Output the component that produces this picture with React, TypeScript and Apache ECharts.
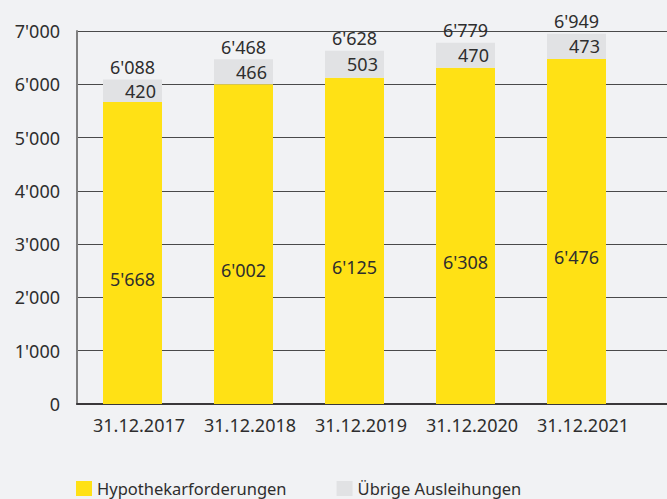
import React, { useEffect, useRef } from "react";
import * as echarts from "echarts";

const categories = ["31.12.2017", "31.12.2018", "31.12.2019", "31.12.2020", "31.12.2021"];
const hypothekar = [5668, 6002, 6125, 6308, 6476];
const uebrige = [420, 466, 503, 470, 473];
const totals = [6088, 6468, 6628, 6779, 6949];
const yTicks = { min: 0, max: 7000, interval: 1000 };

const fmt = (v: number) => {
  const s = Math.round(v).toString();
  return s.replace(/\B(?=(\d{3})+(?!\d))/g, "'");
};

const FONT = "'Noto Sans', sans-serif";
const TXT = "#2e2e2e";
const FS = 18;

export default function App() {
  const ref = useRef<HTMLDivElement>(null);
  useEffect(() => {
    if (!ref.current) return;
    const chart = echarts.init(ref.current, null, { renderer: "svg" });
    chart.setOption({
      animation: false,
      backgroundColor: "#f1f2f4",
      textStyle: { fontFamily: FONT },
      grid: [
        { left: 77, right: 0, top: 31, bottom: 95 },
        { left: 77, right: 35, top: 31, bottom: 95 },
      ],
      legend: {
        left: 76,
        top: 480,
        padding: 0,
        itemWidth: 16,
        itemHeight: 15,
        itemGap: 50,
        icon: "rect",
        data: ["Hypothekarforderungen", "Übrige Ausleihungen"],
        textStyle: { fontSize: 16.5, color: TXT, fontFamily: FONT },
      },
      xAxis: [
        {
          type: "value",
          gridIndex: 0,
          min: 0,
          max: 1,
          axisLine: { show: true, onZero: false, lineStyle: { color: "#3a383a", width: 2 } },
          axisTick: { show: false },
          axisLabel: { show: false },
          splitLine: { show: false },
        },
        {
          type: "category",
          gridIndex: 1,
          data: categories,
          axisLine: { show: false },
          axisTick: { show: false },
          axisLabel: {
            interval: 0,
            fontSize: FS,
            color: TXT,
            margin: 12,
            padding: [0, 0, 0, 13],
            fontFamily: FONT,
          },
        },
      ],
      yAxis: [
        {
          type: "value",
          gridIndex: 0,
          ...yTicks,
          axisLine: { show: true, lineStyle: { color: "#808080", width: 2 } },
          axisTick: { show: false },
          axisLabel: { fontSize: FS, color: TXT, margin: 17, formatter: (v: number) => fmt(v), fontFamily: FONT },
          splitLine: { show: true, lineStyle: { color: "#4a4a4a", width: 1 } },
        },
        {
          type: "value",
          gridIndex: 1,
          ...yTicks,
          axisLine: { show: false },
          axisTick: { show: false },
          axisLabel: { show: false },
          splitLine: { show: false },
        },
      ],
      series: [
        {
          name: "Hypothekarforderungen",
          type: "bar",
          xAxisIndex: 1,
          yAxisIndex: 1,
          stack: "a",
          barWidth: 59,
          data: hypothekar,
          itemStyle: { color: "#ffe115" },
          label: {
            show: true,
            position: "inside",
            offset: [0, 26],
            fontSize: FS,
            color: TXT,
            fontFamily: FONT,
            formatter: (p: any) => fmt(p.value),
          },
        },
        {
          name: "Übrige Ausleihungen",
          type: "bar",
          xAxisIndex: 1,
          yAxisIndex: 1,
          stack: "a",
          barWidth: 59,
          data: uebrige,
          itemStyle: { color: "#e1e2e4" },
          label: {
            show: true,
            position: "inside",
            offset: [8, 0],
            fontSize: FS,
            color: TXT,
            fontFamily: FONT,
            formatter: (p: any) => fmt(p.value),
          },
        },
        {
          name: "Total",
          type: "line",
          xAxisIndex: 1,
          yAxisIndex: 1,
          data: totals,
          symbol: "circle",
          symbolSize: 1,
          showSymbol: true,
          itemStyle: { color: "rgba(0,0,0,0)" },
          lineStyle: { opacity: 0 },
          silent: true,
          z: 10,
          label: {
            show: true,
            position: "top",
            distance: 3,
            fontSize: FS,
            color: TXT,
            fontFamily: FONT,
            formatter: (p: any) => fmt(p.value),
          },
        },
      ],
    });
    return () => chart.dispose();
  }, []);
  return <div ref={ref} style={{ width: 667, height: 499, position: "absolute", left: 0, top: 0 }} />;
}
